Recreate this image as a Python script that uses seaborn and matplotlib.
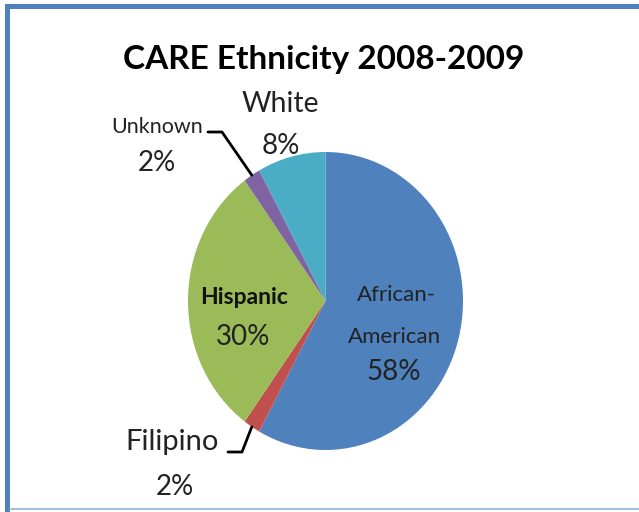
import numpy as np
import matplotlib
matplotlib.use("Agg")
import matplotlib.pyplot as plt
from matplotlib.lines import Line2D
from matplotlib.patches import Rectangle
import seaborn as sns

# data (clockwise from 12 o'clock)
groups = ["African-American", "Filipino", "Hispanic", "Unknown", "White"]
shares = [58, 2, 30, 2, 8]
colors = ["#4F81BD", "#C0504D", "#9BBB59", "#8064A2", "#4BACC6"]
title = "CARE Ethnicity 2008-2009"

sns.set_style("white")
plt.rcParams["font.family"] = ["Lato", "DejaVu Sans"]

W, H = 639, 512
fig = plt.figure(figsize=(W / 100, H / 100), dpi=100)

# pie box in pixels (left, top, right, bottom) - the original is slightly stretched
pl, pt, pr, pb = 188, 152, 463, 450
ax = fig.add_axes([pl / W, 1 - pb / H, (pr - pl) / W, (pb - pt) / H])
wedges, _ = ax.pie(shares, colors=colors, startangle=90, counterclock=False,
                   radius=1, wedgeprops=dict(linewidth=0))
ax.set_aspect("auto")
ax.set_xlim(-1, 1)
ax.set_ylim(-1, 1)
ax.axis("off")


def fx(px):
    return px / W


def fy(py):
    return 1 - py / H


fig.text(fx(324), fy(60), title, ha="center", va="center",
         fontsize=24, fontweight="bold", color="black")

# labels
txt = "#222222"
fig.text(fx(280), fy(104), "White", ha="center", va="center", fontsize=20.5, color=txt)
fig.text(fx(281), fy(146), "8%", ha="center", va="center", fontsize=20, color=txt)
fig.text(fx(157), fy(127), "Unknown", ha="center", va="center", fontsize=15.5, color=txt)
fig.text(fx(157), fy(163), "2%", ha="center", va="center", fontsize=20, color=txt)
fig.text(fx(244), fy(297), "Hispanic", ha="center", va="center", fontsize=16.5,
         fontweight="bold", color="#111111")
fig.text(fx(243), fy(337), "30%", ha="center", va="center", fontsize=20, color=txt)
fig.text(fx(396), fy(295), "African-", ha="center", va="center", fontsize=16, color=txt)
fig.text(fx(394), fy(337), "American", ha="center", va="center", fontsize=16, color=txt)
fig.text(fx(394), fy(372), "58%", ha="center", va="center", fontsize=20, color=txt)
fig.text(fx(172), fy(442), "Filipino", ha="center", va="center", fontsize=21, color=txt)
fig.text(fx(175), fy(487), "2%", ha="center", va="center", fontsize=20, color=txt)

# leader lines from the mid-angle of the small wedges
fig.canvas.draw()
to_fig = fig.transFigure.inverted()
cum = np.cumsum([0] + shares[:-1])
for i, (ex, ey), (hx, hy) in [(3, (222, 132), (208, 132)), (1, (242, 452), (228, 452))]:
    mid = np.deg2rad(90 - 360 * (cum[i] + shares[i] / 2) / sum(shares))
    edge = to_fig.transform(ax.transData.transform((np.cos(mid), np.sin(mid))))
    xs = [edge[0], fx(ex), fx(hx)]
    ys = [edge[1], fy(ey), fy(hy)]
    fig.add_artist(Line2D(xs, ys, transform=fig.transFigure, color="black", lw=2))

# chart frame (blue bars on left/top, light line at bottom)
fig.add_artist(Rectangle((fx(5), 0), fx(5), fy(4), transform=fig.transFigure,
                         color="#4F81BD", lw=0))
fig.add_artist(Rectangle((fx(5), fy(9)), 1 - fx(5), 5 / H, transform=fig.transFigure,
                         color="#4F81BD", lw=0))
fig.add_artist(Line2D([fx(10), 1], [fy(509), fy(509)], transform=fig.transFigure,
                      color="#A7BFDE", lw=1.5))

fig.savefig("out.png", dpi=100)
